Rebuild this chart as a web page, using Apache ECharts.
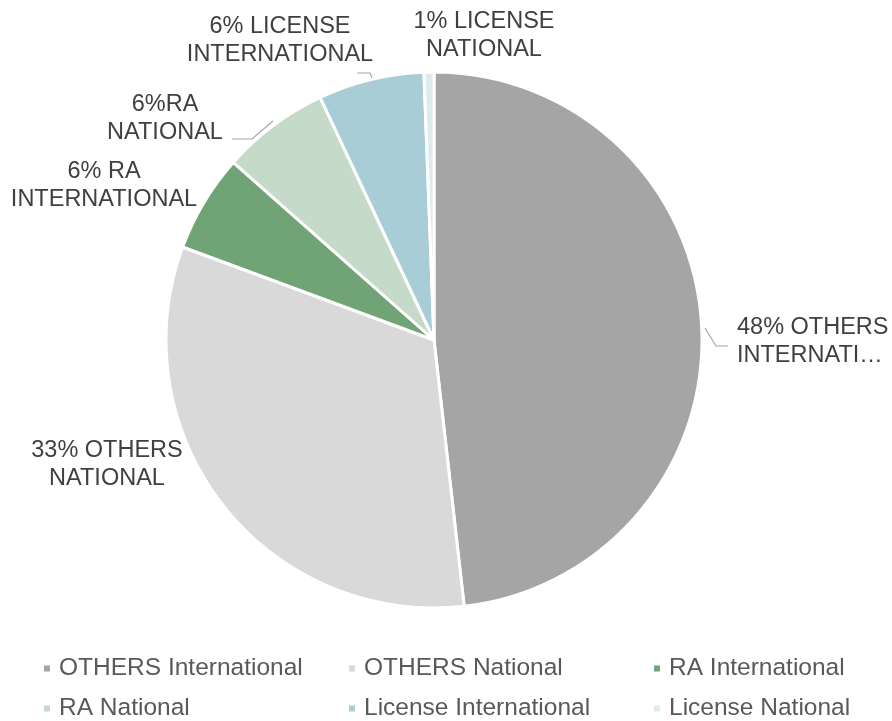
<!DOCTYPE html>
<html>
<head>
<meta charset="utf-8">
<script src="https://cdn.jsdelivr.net/npm/echarts@6/dist/echarts.min.js"></script>
<style>
  html, body { margin: 0; padding: 0; background: #fff; }
  #chart { width: 892px; height: 721px; }
</style>
</head>
<body>
<div id="chart"></div>
<script>
  // slice names, values (percent) and colours, clockwise from 12 o'clock
  const names = ['OTHERS International', 'OTHERS National', 'RA International',
    'RA National', 'License International', 'License National'];
  const values = [48.3, 32.5, 5.9, 6.5, 6.4, 0.6];
  const colors = ['#a5a5a5', '#d9d9d9', '#70a477', '#c5dac8', '#a9cdd6', '#dcebf0'];
  const sliceLabels = ['48% OTHERS\nINTERNATI…', '33% OTHERS\nNATIONAL', '6% RA\nINTERNATIONAL',
    '6%RA\nNATIONAL', '6% LICENSE\nINTERNATIONAL', '1% LICENSE\nNATIONAL'];

  // where each label sits, and the leader lines Excel drew
  const labelPos = [
    { x: 737, y: 342, align: 'left' },
    { x: 107, y: 465, align: 'center' },
    { x: 104, y: 186, align: 'center' },
    { x: 165, y: 119, align: 'center' },
    { x: 280, y: 41, align: 'center' },
    { x: 484, y: 36, align: 'center' }
  ];
  const leaders = {
    0: [[705, 328], [716, 346], [728, 346]],
    3: [[273, 121], [252, 139], [232, 139]],
    4: [[372, 78], [370, 73], [357, 73]]
  };

  // legend grid: 3 columns x 2 rows
  const legendCols = [42, 347, 652];
  const legendRows = [653, 693];
  let legends = names.map(function (n, i) {
    return {
      left: legendCols[i % 3],
      top: legendRows[Math.floor(i / 3)],
      padding: 0,
      icon: 'rect',
      itemWidth: 8,
      itemHeight: 8,
      textStyle: {
        fontFamily: 'Liberation Sans',
        fontSize: 24.5,
        color: '#595959',
        lineHeight: 31,
        padding: [0, 0, 0, 3]
      },
      data: [n]
    };
  });

  let chart = echarts.init(document.getElementById('chart'));
  chart.setOption({
    animation: false,
    legend: legends,
    series: [{
      type: 'pie',
      center: [434, 340],
      radius: [0, 268],
      startAngle: 90,
      clockwise: true,
      avoidLabelOverlap: false,
      itemStyle: { borderColor: '#fff', borderWidth: 3 },
      label: {
        show: true,
        position: 'outside',
        fontFamily: 'Liberation Sans',
        fontSize: 23.5,
        lineHeight: 28,
        color: '#404040',
        formatter: function (p) { return sliceLabels[p.dataIndex]; }
      },
      labelLine: { show: true, lineStyle: { color: '#a6a6a6', width: 1.2 } },
      labelLayout: function (p) {
        let pos = labelPos[p.dataIndex];
        let out = { x: pos.x, y: pos.y, align: pos.align, verticalAlign: 'middle' };
        if (leaders[p.dataIndex]) out.labelLinePoints = leaders[p.dataIndex];
        return out;
      },
      emphasis: { disabled: true },
      data: names.map(function (n, i) {
        return {
          name: n,
          value: values[i],
          itemStyle: { color: colors[i] },
          labelLine: { show: !!leaders[i] }
        };
      })
    }]
  });
</script>
</body>
</html>
